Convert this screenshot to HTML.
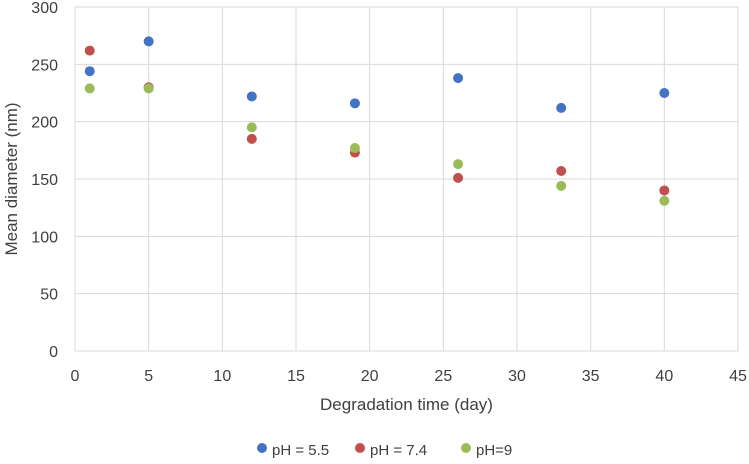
<!DOCTYPE html>
<html><head><meta charset="utf-8"><style>
body{margin:0;background:#fff;font-family:"Liberation Sans",sans-serif;}
svg text{font-family:"Liberation Sans",sans-serif;fill:#404040;}
</style></head><body>
<svg id="chart" width="749" height="459" xmlns="http://www.w3.org/2000/svg"></svg>
<script>
const days=[1,5,12,19,26,33,40];
const ph55=[244,270,222,216,238,212,225];
const ph74=[262,230,185,173,151,157,140];
const ph9=[229,229,195,177,163,144,131];
const xTicks=[0,5,10,15,20,25,30,35,40,45];
const yTicks=[0,50,100,150,200,250,300];
const seriesNames=["pH = 5.5","pH = 7.4","pH=9"];
const colors=["#4472C4","#C0504D","#9BBB59"];
const svg=document.getElementById('chart');
const NS="http://www.w3.org/2000/svg";
const X0=75,X1=738,Y0=351,Y1=7;
const xs=v=>X0+(v/45)*(X1-X0);
const ys=v=>Y0-(v/300)*(Y0-Y1);
function mk(t,a,p){const e=document.createElementNS(NS,t);for(const k in a)e.setAttribute(k,a[k]);(p||svg).appendChild(e);return e;}
xTicks.forEach(t=>{if(t===0)return;const l=mk('line',{x1:xs(t),x2:xs(t),y1:Y1,y2:Y0,stroke:'#d9d9d9','stroke-width':1});

});
yTicks.forEach(t=>{const l=mk('line',{x1:X0,x2:X1,y1:ys(t),y2:ys(t),stroke:'#d9d9d9','stroke-width':1});


const tx=mk('text',{x:X0-17,y:ys(t)+6,'text-anchor':'end','font-size':16});tx.textContent=t;

});
const ax=mk('line',{x1:X0,x2:X0,y1:Y1,y2:Y0,stroke:'#d9d9d9'});


xTicks.forEach(t=>{const tx=mk('text',{x:xs(t),y:381,'text-anchor':'middle','font-size':16});tx.textContent=t;

});
const xt=mk('text',{x:(X0+X1)/2,y:410,'text-anchor':'middle','font-size':17});xt.textContent='Degradation time (day)';


const yt=mk('text',{x:0,y:0,'text-anchor':'middle','font-size':17,transform:`translate(17,${(Y0+Y1)/2}) rotate(-90)`});yt.textContent='Mean diameter (nm)';


[ph55,ph74,ph9].forEach((s,i)=>{s.forEach((v,j)=>{const c=mk('circle',{cx:xs(days[j]),cy:ys(v),r:5,fill:colors[i]});

});});
const lx=[262,360,466];
seriesNames.forEach((n,i)=>{const c=mk('circle',{cx:lx[i],cy:448,r:5,fill:colors[i]});


const tx=mk('text',{x:lx[i]+10,y:455,'font-size':15});tx.textContent=n;

});
</script>
</body></html>
